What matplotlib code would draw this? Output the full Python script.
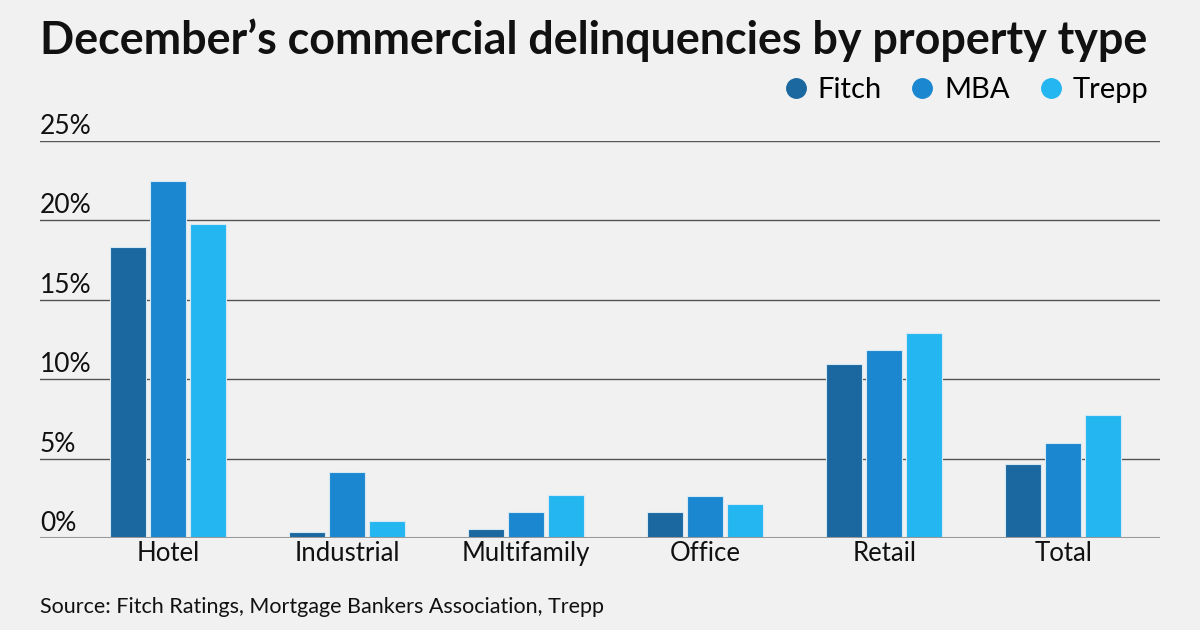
import numpy as np
import matplotlib.pyplot as plt
from matplotlib.lines import Line2D

categories = ['Hotel', 'Industrial', 'Multifamily', 'Office', 'Retail', 'Total']
fitch = [18.3, 0.4, 0.57, 1.65, 10.95, 4.65]
mba = [22.5, 4.15, 1.65, 2.65, 11.85, 6.0]
trepp = [19.8, 1.1, 2.7, 2.15, 12.9, 7.75]
series = ['Fitch', 'MBA', 'Trepp']
colors = ['#1b67a0', '#1b87d0', '#24b6f1']
yticks = [0, 5, 10, 15, 20, 25]

plt.rcParams['font.family'] = ['Lato', 'DejaVu Sans']
bg = '#f0f1f0'


def main():
    fig = plt.figure(figsize=(12, 6.3), dpi=100, facecolor=bg)
    ax = fig.add_axes([40 / 1200, 1 - 538 / 630, 1120 / 1200, 397 / 630])
    ax.set_facecolor(bg)

    x = np.arange(len(categories))
    step = 0.2235
    width = 0.201
    for i, (name, vals) in enumerate(zip(series, [fitch, mba, trepp])):
        ax.bar(x + (i - 1) * step, vals, width=width, color=colors[i],
               edgecolor='#d6e8f3', linewidth=0.8, zorder=3)

    ax.set_xlim(-0.715, 5.54)
    ax.set_ylim(0, 25)
    ax.set_yticks(yticks)
    ax.set_yticklabels([])
    for t in yticks:
        ax.axhline(t, color='#999999' if t == 0 else '#555555',
                   linewidth=2.2 if t == 0 else 1.0, zorder=4 if t == 0 else 1)
        ax.text(0, t + 0.12, f'{t}%', transform=ax.get_yaxis_transform(),
                ha='left', va='bottom', fontsize=19, color='#111111')

    ax.set_xticks(x)
    ax.set_xticklabels(categories, fontsize=18.5, color='#111111')
    ax.tick_params(axis='both', length=0, pad=2)
    for s in ax.spines.values():
        s.set_visible(False)

    fig.text(40 / 1200, 1 - 40 / 630, "December\u2019s commercial delinquencies by property type",
             fontsize=32.3, fontweight='bold', ha='left', va='center', color='#111111')

    handles = [Line2D([], [], marker='o', linestyle='none', markersize=14,
                      markerfacecolor=c, markeredgecolor=c) for c in colors]
    fig.legend(handles, series, loc='center right', bbox_to_anchor=(1163 / 1200, 1 - 90 / 630),
               ncol=3, frameon=False, fontsize=21, handletextpad=0.25, columnspacing=0.9,
               borderpad=0, handlelength=1.0)

    fig.text(40 / 1200, 1 - 607 / 630, 'Source: Fitch Ratings, Mortgage Bankers Association, Trepp',
             fontsize=15.5, ha='left', va='center', color='#111111')

    fig.savefig('out.png', dpi=100, facecolor=bg)


if __name__ == "__main__":
    main()
